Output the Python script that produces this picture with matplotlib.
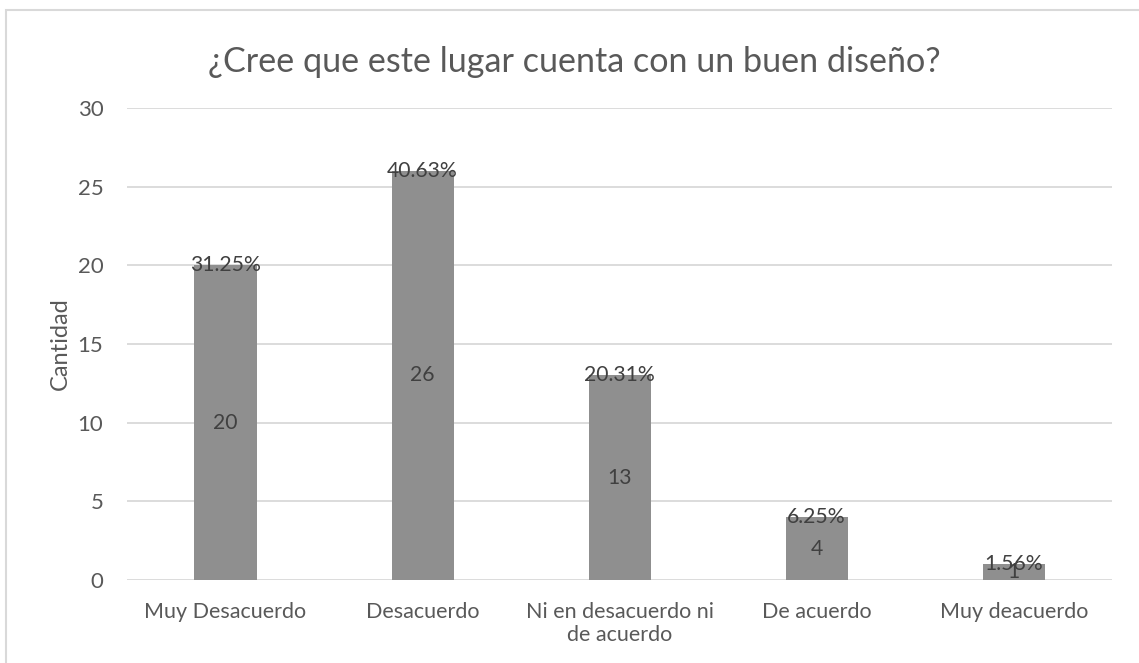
import matplotlib
matplotlib.use("Agg")
import matplotlib.pyplot as plt
from matplotlib.patches import Rectangle

# Datos de la encuesta
categorias = ["Muy Desacuerdo", "Desacuerdo", "Ni en desacuerdo ni\nde acuerdo", "De acuerdo", "Muy deacuerdo"]
cantidades = [20, 26, 13, 4, 1]
porcentajes = ["31.25%", "40.63%", "20.31%", "6.25%", "1.56%"]
y_ticks = [0, 5, 10, 15, 20, 25, 30]

plt.rcParams['font.family'] = ['Lato', 'DejaVu Sans']
gris_texto = "#595959"

fig = plt.figure(figsize=(11.39, 6.63), dpi=100)
ax = fig.add_axes([0.1115, 0.1252, 0.865, 0.7118])

# marco del grafico
fig.patches.append(Rectangle((6 / 1139, -0.1), 1.2, 1 - 10 / 663 + 0.1, transform=fig.transFigure,
                             fill=False, edgecolor="#d9d9d9", linewidth=1.5))

x = range(len(categorias))
ax.bar(x, cantidades, width=0.315, color="#8f8f8f", zorder=3)

for i, (c, p) in enumerate(zip(cantidades, porcentajes)):
    ax.text(i, c, p, ha="center", va="center", fontsize=15.2, color="#404040", zorder=4)
    ax.text(i, c / 2, str(c), ha="center", va="center", fontsize=15.2, color="#404040", zorder=4)

ax.set_xlim(-0.5, len(categorias) - 0.5)
ax.set_ylim(0, 30)
ax.set_yticks(y_ticks)
ax.set_xticks(list(x))
ax.set_xticklabels(categorias, fontsize=15.5, color=gris_texto, linespacing=1.2)
ax.tick_params(axis="y", labelsize=16, labelcolor=gris_texto, length=0, pad=17)
ax.tick_params(axis="x", length=0, pad=16)
ax.grid(axis="y", color="#d9d9d9", linewidth=1.3, zorder=0)
for s in ax.spines.values():
    s.set_visible(False)

ax.set_ylabel("Cantidad", fontsize=17, color=gris_texto, labelpad=5)
fig.text(0.504, 0.907, "¿Cree que este lugar cuenta con un buen diseño?", ha="center", va="center",
         fontsize=24.6, color=gris_texto)

fig.savefig("out.png", dpi=100, facecolor="white")
